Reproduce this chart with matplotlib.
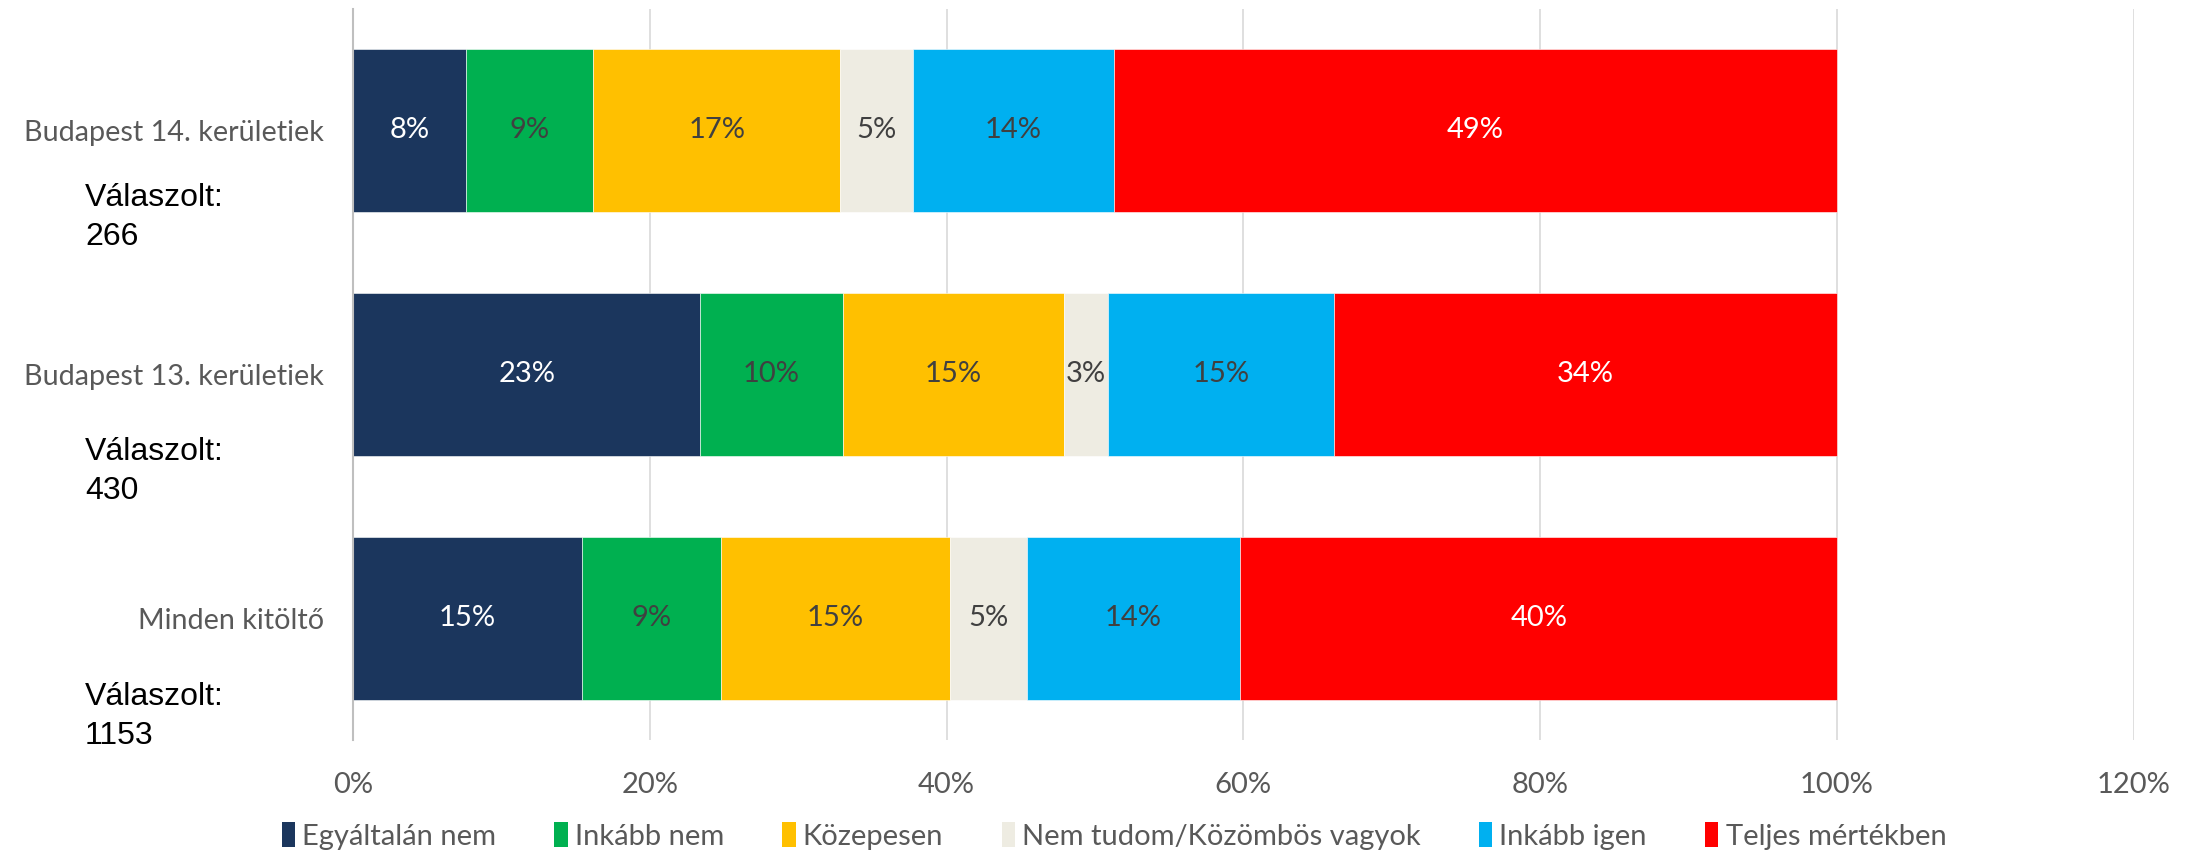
import matplotlib
matplotlib.use("Agg")
import matplotlib.pyplot as plt
from matplotlib.patches import Patch
from matplotlib.ticker import FuncFormatter
import numpy as np

# Survey groups, top to bottom
categories = ["Budapest 14. kerületiek", "Budapest 13. kerületiek", "Minden kitöltő"]
answered = [266, 430, 1153]

answers = ["Egyáltalán nem", "Inkább nem", "Közepesen",
           "Nem tudom/Közömbös vagyok", "Inkább igen", "Teljes mértékben"]

# share of answers (%) per group, same order as answers
bp14 = [7.6, 8.6, 16.6, 4.9, 13.6, 48.7]
bp13 = [23.4, 9.6, 14.9, 3.0, 15.2, 33.9]
minden = [15.4, 9.4, 15.4, 5.2, 14.4, 40.2]

colors = ["#1B365D", "#00B050", "#FFC000", "#EEECE2", "#00B0F0", "#FF0000"]
label_colors = ["white", "#404040", "#404040", "#404040", "#404040", "white"]

font = "Lato"
gray = "#595959"

shares = np.array([bp14, bp13, minden])
ypos = np.arange(len(categories))[::-1]

fig = plt.figure(figsize=(21.93, 8.52), dpi=100)
ax = fig.add_axes([0.161, 0.131, 0.812, 0.859])

left = np.zeros(len(categories))
for i, ans in enumerate(answers):
    vals = shares[:, i]
    ax.barh(ypos, vals, left=left, height=0.665, color=colors[i],
            edgecolor="white", linewidth=0.4, label=ans, zorder=3)
    for y, l, v in zip(ypos, left, vals):
        ax.text(l + v / 2, y, f"{round(v)}%", ha="center", va="center",
                fontsize=21, color=label_colors[i], family=font, zorder=4)
    left += vals

ax.set_xlim(0, 120)
ax.set_ylim(-0.5, 2.5)
ax.set_xticks(np.arange(0, 121, 20))
ax.xaxis.set_major_formatter(FuncFormatter(lambda x, _: f"{x:.0f}%"))
ax.grid(axis="x", color="#D9D9D9", linewidth=1.2, zorder=0)
ax.tick_params(axis="x", length=0, pad=23, labelsize=21, labelcolor=gray)
ax.tick_params(axis="y", length=0, pad=21, labelsize=20.7, labelcolor=gray)
for lbl in ax.get_xticklabels():
    lbl.set_family(font)
ax.set_yticks(ypos)
ax.set_yticklabels(categories, family=font)
for s in ["top", "right", "bottom"]:
    ax.spines[s].set_visible(False)
ax.spines["left"].set_color("#BFBFBF")
ax.spines["left"].set_linewidth(1.5)
ax.spines["left"].set_zorder(5)

# respondent counts under each group name
count_top = [183, 437, 682]
for n, py in zip(answered, count_top):
    fig.text(85 / 2193, 1 - py / 852, f"Válaszolt:\n{n}", ha="left", va="top",
             fontsize=23, color="black", family="Liberation Sans",
             linespacing=1.4, transform=fig.transFigure)

handles = [Patch(facecolor=c, edgecolor="none") for c in colors]
fig.legend(handles, answers, loc="center", bbox_to_anchor=(0.508, 1 - 836 / 852),
           ncol=6, frameon=False, prop={"family": font, "size": 21},
           labelcolor=gray, handlelength=0.45, handleheight=0.9,
           handletextpad=0.25, columnspacing=2.0)

fig.savefig("out.png", dpi=100)
